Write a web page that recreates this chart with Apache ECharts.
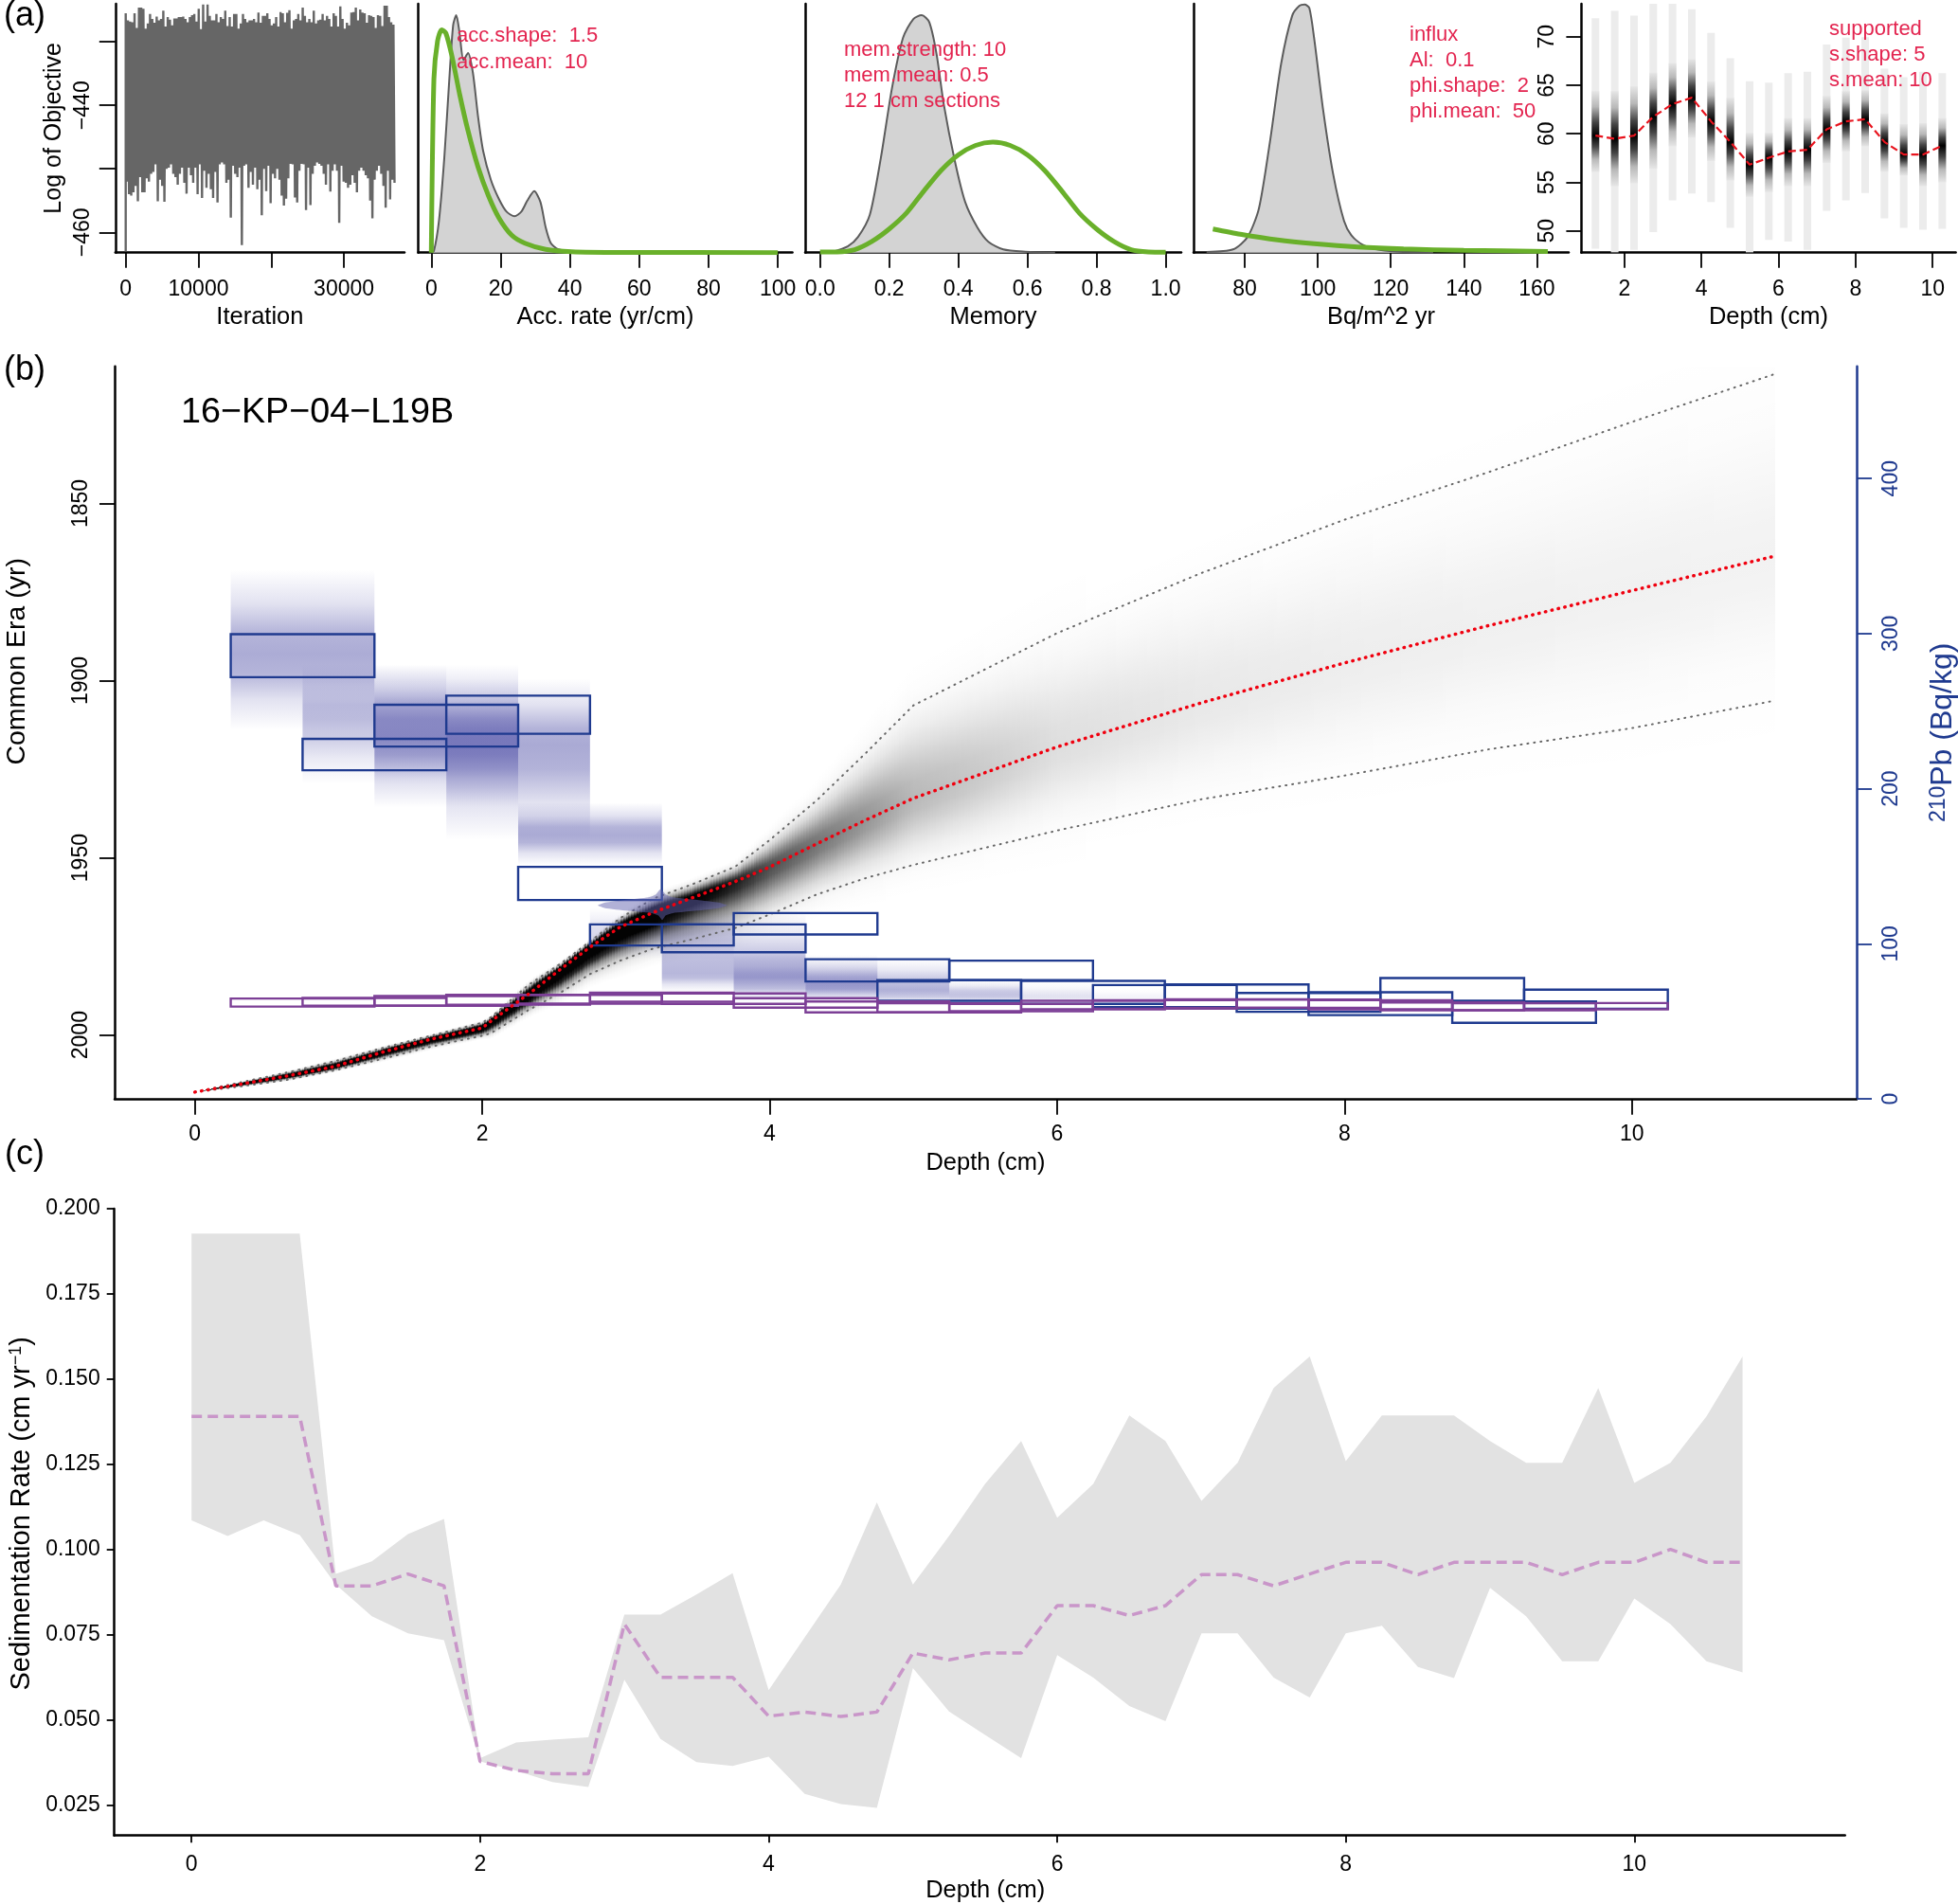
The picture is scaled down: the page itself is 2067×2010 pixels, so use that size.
<!DOCTYPE html>
<html><head><meta charset="utf-8">
<style>html,body{margin:0;padding:0;background:#fff}#c{width:2067px;height:2010px}</style>
<script src="https://cdn.jsdelivr.net/npm/echarts@6/dist/echarts.min.js"></script>
</head><body><div id="c"></div>
<script>
const FONT='"Liberation Sans",Arial,sans-serif';
// (a1) trace envelope
const traceTop=[-425.5,-426.6,-426.8,-426.9,-425.5,-427.8,-424.6,-424.6,-424.8,-427.9,-427.1,-425.6,-426.4,-427,-426,-426.6,-426.4,-425.1,-427.6,-426.1,-426.5,-427.4,-426.3,-426.3,-426.1,-426.1,-426,-426.4,-426.9,-426.1,-425.8,-425.6,-426.8,-424.8,-428,-424.1,-426.8,-424.1,-425.9,-426.6,-426.6,-425.6,-426.9,-426.1,-426.4,-425.1,-427.5,-426.1,-427.6,-425.6,-425.6,-427.9,-427.1,-425.6,-426.4,-426.9,-426.6,-426.6,-426.4,-426.9,-425.4,-427,-425.9,-425.9,-425.5,-426.4,-427.4,-427.1,-426.1,-427.6,-425.3,-425.5,-426.9,-425.4,-425,-427.9,-426.6,-426.4,-425.6,-426.6,-424.6,-425.9,-426.9,-426.4,-426.9,-425.1,-427.1,-426.6,-426.5,-425.6,-426.6,-425.9,-426.4,-427.6,-425.5,-425.9,-427.6,-424.4,-426.4,-427.9,-427,-427.4,-425.4,-425.3,-424.6,-426.6,-424.9,-425.4,-425.5,-427,-425.8,-425.9,-426.1,-427.8,-425.8,-425.9,-427.5,-424.3,-424.3,-426.1,-426.9,-427.3];
const traceLow=[-452,-454,-454.2,-453.7,-452.7,-455.1,-451.3,-453.7,-453.7,-451.5,-452,-450.8,-450.5,-449.3,-455.1,-451.7,-452.7,-455.2,-450,-449.8,-449.3,-450.8,-451.3,-452.5,-450.8,-449.8,-452.2,-453.9,-449.8,-451,-452.2,-449.8,-454,-449.3,-454.6,-450.3,-453,-450.8,-453.2,-454.6,-450.5,-455.3,-449.3,-449,-449.3,-452.2,-451.7,-457.7,-449.5,-450.8,-451.3,-449.8,-462,-449.5,-449.3,-453,-450.5,-452.5,-449.8,-453.2,-451.7,-457.3,-450,-453.5,-449.5,-455.4,-450.8,-451.5,-450,-451.7,-454.2,-455.8,-454.7,-451.5,-449.2,-449.3,-454.5,-455.3,-450.3,-449.2,-449.3,-456.5,-449.8,-455.7,-450.8,-449.5,-449,-449.2,-449.5,-450.8,-452.5,-449.3,-453.6,-450.3,-449.3,-450.3,-458.5,-449.5,-452,-452.2,-453,-452.5,-451,-452.2,-453.7,-450.3,-449.8,-450.3,-451,-451.5,-455,-457.8,-451.7,-450.3,-449.5,-450.8,-452.7,-456.1,-450.3,-454.8,-451.7,-452.2];
const traceStart=-463, traceLastIter=36800;
// (a2)
const accX=[0,0.75,2.2,3.75,5.2,6.3,7.2,8.1,9.3,10.6,12,13.5,15,17.2,19.5,21.7,24,26,27.7,29.7,31.5,33,34.5,36.7,40.5,45,50];
const accY=[0,.006,.127,.381,.698,.914,.954,.888,.774,.802,.723,.546,.406,.292,.216,.165,.146,.165,.209,.247,.203,.102,.038,.013,.004,.001,0];
const accPriorX=[0,.75,1.8,3,4.2,6,8.2,10.5,13.5,16.5,19.5,23.2,27,33,40.5,55,100];
const accPriorY=[0,.698,.85,.895,.882,.787,.635,.495,.343,.228,.14,.07,.038,.013,.004,.001,0];
// (a3)
const memX=[.036,.08,.11,.144,.176,.208,.24,.27,.294,.316,.337,.358,.39,.42,.455,.487,.53,.594,.68];
const memY=[.003,.025,.063,.152,.381,.66,.863,.939,.954,.926,.799,.596,.368,.203,.102,.044,.013,.004,0];
const memPriorX=[0,.05,.1,.15,.2,.25,.3,.35,.4,.45,.5,.55,.6,.65,.7,.75,.8,.85,.9,.95,1];
const memPriorY=[.003,.003,.012,.045,.095,.159,.247,.33,.393,.431,.444,.431,.393,.33,.247,.159,.095,.045,.012,.003,.002];
// (a4)
const fluxX=[69.6,76.8,80.8,83.9,86.9,90,93,95,96.4,97.7,99,101.5,104.2,107.2,109.2,112.3,117.4,123.4,131.6];
const fluxY=[.003,.013,.063,.178,.444,.761,.952,.992,.997,.983,.863,.571,.317,.127,.07,.032,.01,.003,0];
const fluxPriorX=[71.3,78.8,89,99,111,123.5,140,163];
const fluxPriorY=[.095,.074,.051,.036,.023,.015,.009,.005];
// (a5)
const suppDepth=[1.25,1.75,2.25,2.75,3.25,3.75,4.25,4.75,5.25,5.75,6.25,6.75,7.25,7.75,8.25,8.75,9.25,9.75,10.25];
const suppMed=[59.81,59.49,59.81,61.76,63.07,63.72,61.28,59.16,56.82,57.53,58.18,58.35,60.46,61.28,61.5,59.16,57.86,57.86,58.77];
const suppHi=[71.92,72.67,72.18,73.42,73.42,72.83,70.39,67.79,65.41,65.28,66.26,66.39,69.19,69.9,69.97,66.71,65.83,66.39,66.26];
const suppLo=[48.16,47.77,48.03,49.88,53.14,53.85,52.98,50.31,47.77,49.07,48.9,48.03,52.06,53.14,53.89,51.28,50.31,50.11,50.21];
const suppCoreHi=[64.4,64.4,64.9,66.3,67.3,67.7,65.4,63.7,60.1,60.1,61.6,61.6,63.9,64.4,64.5,62.1,61,61.1,61.6];
const suppCoreLo=[56.07,54.6,54.9,56.4,58.7,59.6,57.2,55.2,53.5,54,54.6,54.6,57,58.2,58.7,56.1,55.7,54.6,55];
// (b) age model
const ageDepth=[0,0.3,0.65,0.97,1.31,1.64,2,2.06,2.32,2.55,2.75,2.96,3.19,3.46,3.76,4,4.33,4.67,5,6,7,8,9,10,11];
const ageMed=[2016.1,2014,2011.5,2008.9,2004.8,2001.2,1998,1996.1,1988.5,1981.3,1975.2,1969.5,1965.4,1961.3,1956.7,1952.6,1946,1939.3,1933.2,1918.7,1906.3,1895,1884.5,1874.6,1864.8];
const ageOld=[2016.1,2013.5,2010.5,2007.4,2003.6,2000.2,1996.5,1995,1985.9,1979.7,1973.6,1967,1961.5,1957.5,1952.5,1945,1933.7,1920.4,1907,1886.6,1869.7,1854.6,1841.2,1827,1813.4];
const ageYoung=[2016.1,2014.6,2012.6,2010,2006.7,2003.3,2000.2,1999.5,1993,1987.9,1982.8,1979,1975.6,1973,1969.8,1966,1960.3,1955.7,1952,1942.3,1933.5,1926.8,1919.4,1913.4,1905.6];
const ageDark=[1.8,1.8,1.8,1.8,1.8,1.8,1.8,1.8,1.8,1.8,1.8,1.7,1.4,1.1,.9,.7,.55,.42,.28,.13,.09,.07,.06,.055,.05];
// (b) 210Pb
const pbDepth=[.75,1.25,1.75,2.25,2.75,3.25,3.75,4.25,4.75,5.25,5.75,6.25,6.75,7.25,7.75,8.25,8.75,9.25,9.75];
const pbTop=[299.6,232.1,254.1,260,149.6,112.5,112.5,119.8,90,76.5,89.1,76.1,73.4,73.8,68.3,68.7,77.9,62.8,70.4];
const pbBot=[271.9,211.9,227.2,235.4,128.2,98.9,94.5,106,75.7,63.2,76.5,61.2,59.1,58.1,56.1,54,63.2,49,58.1];
const supTop=[64.7,65.1,66.3,67,67,68.4,68,64.9,62.8,61.6,61.2,63.2,63.6,64.2,64,63.6,62.2,61.6,61.8];
const supBot=[59.5,60,60,60.7,61.4,62.6,61.2,58.8,55.7,55.7,56.5,57.7,58.1,58.7,58.7,57.7,57.1,57.1,57.7];
const modelTop=[341,280,280,271,191,123,120,93,90,76.5,76.5,71];
const modelPeak=[287,245,233,228,170,106,81,74,73,67.3,66,65];
const modelBot=[238,203,188,167,151,90,69,62,63,61,62.2,62];
const modelDark=[.44,.32,.5,.45,.44,.2,.38,.34,.32,.24,.1,.06];
// (b) spindle
const csDepth=[2.805,2.855,2.99,3.158,3.209,3.242,3.276,3.327,3.495,3.646,3.704,3.646,3.495,3.327,3.276,3.253,3.226,3.175,3.007,2.855];
const csAge=[1963.4,1962.6,1961.85,1961.1,1960.3,1958.8,1960.3,1961.1,1961.85,1962.6,1963.4,1964.2,1964.9,1965.6,1966.25,1967.5,1966.25,1965.6,1964.9,1964.2];
// (c)
const rateDepth=[0,.25,.5,.75,1,1.25,1.5,1.75,2,2.25,2.5,2.75,3,3.25,3.5,3.75,4,4.25,4.5,4.75,5,5.25,5.5,5.75,6,6.25,6.5,6.75,7,7.25,7.5,7.75,8,8.25,8.5,8.75,9,9.25,9.5,9.75,10,10.25,10.5,10.75];
const rateHi=[.1927,.1927,.1927,.1927,.0929,.0966,.1046,.1090,.0389,.0435,.0443,.0450,.0810,.0810,.0869,.0931,.0588,.0743,.0898,.1139,.0898,.1040,.1193,.1319,.1094,.1193,.1394,.1319,.1143,.1255,.1474,.1567,.1260,.1394,.1394,.1394,.1319,.1255,.1255,.1474,.1196,.1255,.1391,.1567];
const rateLo=[.1086,.1040,.1086,.1043,.0898,.0805,.0755,.0735,.0379,.0352,.0319,.0304,.0619,.0445,.0377,.0366,.0393,.0284,.0254,.0243,.0653,.0526,.0457,.0389,.0691,.0625,.0542,.0497,.0755,.0755,.0625,.0567,.0755,.0777,.0656,.0624,.0888,.0805,.0673,.0673,.0857,.0782,.0673,.0640];
const rateMed=[.1391,.1391,.1391,.1391,.0894,.0894,.0929,.0894,.0379,.0353,.0343,.0343,.0782,.0626,.0626,.0626,.0512,.0524,.0511,.0524,.0697,.0677,.0697,.0697,.0836,.0836,.0807,.0836,.0927,.0927,.0894,.0929,.0963,.0963,.0927,.0963,.0963,.0963,.0927,.0963,.0963,.1001,.0963,.0963];
// ticks
const iterTicks=[0,10000,20000,30000], iterLabels=[0,10000,30000];
const accTicks=[0,20,40,60,80,100], memTicks=[0,.2,.4,.6,.8,1], fluxTicks=[80,100,120,140,160];
const suppXTicks=[2,4,6,8,10], suppYTicks=[50,55,60,65,70];
const objTicks=[-430,-440,-450,-460], objLabels=[-440,-460];
const depthTicks=[0,2,4,6,8,10], eraTicks=[1850,1900,1950,2000], pbTicks=[0,100,200,300,400];
const rateTicks=[.025,.05,.075,.1,.125,.15,.175,.2];

const BLUE='#1f3a8f', PURPLE='#7c3f96', RED='#e3244f', GREEN='#69b02a';
const zip=(a,b)=>a.map((v,i)=>[v,b[i]]);
const grids=[
 {left:121.8,top:4,width:305.2,height:262.7},
 {left:441.6,top:4,width:394.9,height:262.7},
 {left:850,top:4,width:397,height:262.7},
 {left:1260,top:4,width:396,height:262.7},
 {left:1669.4,top:4,width:395.2,height:262.7},
 {left:121,top:386.7,width:1839,height:773.3},
 {left:120.7,top:1276,width:1827,height:661.7}
].map(g=>Object.assign(g,{outerBoundsMode:'none',containLabel:false}));
const line={show:true,onZero:false,lineStyle:{color:'#000',width:2.5}};
function xAx(g,min,max,ticks,labels,name,tickLen,margin,gap,fmt,pad){
 return {type:'value',gridIndex:g,min,max,name,nameLocation:'middle',nameGap:gap,
  nameTextStyle:{fontFamily:FONT,fontSize:25.5,color:'#000',padding:pad||0},axisLine:line,splitLine:{show:false},
  axisTick:{show:true,length:tickLen,customValues:ticks,lineStyle:{color:'#000',width:1.8}},
  axisLabel:{show:true,customValues:labels,margin,fontFamily:FONT,fontSize:23,color:'#000',formatter:fmt||(v=>String(v))}};
}
function yPlain(g){
 return {type:'value',gridIndex:g,min:0,max:1,axisLine:line,axisTick:{show:false},axisLabel:{show:false},splitLine:{show:false}};
}
const xAxis=[
 xAx(0,-1420,38320,iterTicks,iterLabels,'Iteration',16,27,55),
 xAx(1,-3.75,104.2,accTicks,accTicks,'Acc. rate (yr/cm)',16,27,55),
 xAx(2,-.043,1.045,memTicks,memTicks,'Memory',16,27,55,v=>v.toFixed(1)),
 xAx(3,66,168.7,fluxTicks,fluxTicks,'Bq/m^2 yr',16,27,55),
 xAx(4,.884,10.6,suppXTicks,suppXTicks,'Depth (cm)',16,27,55),
 xAx(5,-.558,11.564,depthTicks,depthTicks,'Depth (cm)',16.7,26,55),
 xAx(6,-.535,11.46,depthTicks,depthTicks,'Depth (cm)',7.6,19,45,null,[0,0,0,12])
];
const yAxis=[
 {type:'value',gridIndex:0,min:-463.2,max:-424,name:'Log of Objective',nameLocation:'middle',nameGap:52,nameRotate:90,
  nameTextStyle:{fontFamily:FONT,fontSize:25,color:'#000'},axisLine:line,splitLine:{show:false},
  axisTick:{show:true,length:17,customValues:objTicks,lineStyle:{color:'#000',width:1.8}},
  axisLabel:{show:true,customValues:objLabels,rotate:90,margin:23,fontFamily:FONT,fontSize:23,color:'#000',formatter:v=>String(v).replace('-','\u2212')}},
 yPlain(1),yPlain(2),yPlain(3),
 {type:'value',gridIndex:4,min:47.75,max:73.4,axisLine:line,splitLine:{show:false},
  axisTick:{show:true,length:16,customValues:suppYTicks,lineStyle:{color:'#000',width:1.8}},
  axisLabel:{show:true,customValues:suppYTicks,rotate:90,margin:24,fontFamily:FONT,fontSize:23,color:'#000'}},
 {type:'value',gridIndex:5,inverse:true,min:1811.3,max:2018,name:'Common Era (yr)',nameLocation:'middle',nameGap:88,nameRotate:90,
  nameTextStyle:{fontFamily:FONT,fontSize:28.5,color:'#000',padding:[0,0,0,150]},axisLine:line,splitLine:{show:false},
  axisTick:{show:true,length:16,customValues:eraTicks,lineStyle:{color:'#000',width:1.8}},
  axisLabel:{show:true,customValues:eraTicks,rotate:90,margin:24,fontFamily:FONT,fontSize:23,color:'#000',formatter:v=>String(v)}},
 {type:'value',gridIndex:5,position:'right',min:0,max:472.4,name:'{s|210}{m|Pb (Bq/kg)}',nameLocation:'middle',nameGap:75,nameRotate:90,
  nameTextStyle:{fontFamily:FONT,color:BLUE,rich:{s:{fontFamily:FONT,fontSize:23,color:BLUE,verticalAlign:'top'},m:{fontFamily:FONT,fontSize:32,color:BLUE}}},
  axisLine:{show:true,onZero:false,lineStyle:{color:BLUE,width:2.5}},splitLine:{show:false},
  axisTick:{show:true,length:16,customValues:pbTicks,lineStyle:{color:BLUE,width:1.8}},
  axisLabel:{show:true,customValues:pbTicks,rotate:90,margin:25,fontFamily:FONT,fontSize:23,color:BLUE,formatter:v=>String(v)}},
 {type:'value',gridIndex:6,min:.0162,max:.2,name:'Sedimentation Rate (cm yr{s|\u22121})',nameLocation:'middle',nameGap:81,nameRotate:90,
  nameTextStyle:{fontFamily:FONT,fontSize:29,color:'#000',padding:[0,0,0,18],rich:{s:{fontFamily:FONT,fontSize:18,color:'#000',verticalAlign:'top'}}},
  axisLine:line,splitLine:{show:false},
  axisTick:{show:true,length:8,customValues:rateTicks,lineStyle:{color:'#000',width:1.8}},
  axisLabel:{show:true,customValues:rateTicks,margin:15,fontFamily:FONT,fontSize:23,color:'#000',formatter:v=>v.toFixed(3)}}
];
// trace zigzag
const traceN=Math.min(traceTop.length,traceLow.length);
const iterStep=traceLastIter/(traceN-1);
const traceData=[[0,traceStart]];
for(let i=0;i<traceN;i++){traceData.push([i*iterStep,traceTop[i]]);traceData.push([i*iterStep+iterStep/2,traceLow[i]]);}
function dens(g,xs,ys){return {type:'line',xAxisIndex:g,yAxisIndex:g,data:zip(xs,ys),showSymbol:false,silent:true,smooth:.25,
 lineStyle:{color:'#5c5c5c',width:2},areaStyle:{color:'#d3d3d3',opacity:1}};}
function prior(g,xs,ys){return {type:'line',xAxisIndex:g,yAxisIndex:g,data:zip(xs,ys),showSymbol:false,silent:true,smooth:.25,
 lineStyle:{color:GREEN,width:5}};}
// density of age band
function ageBand(params,api){
 const i=params.dataIndex; if(i>=ageDepth.length-1) return null;
 const FMAX=1.5,children=[];
 const p0=api.coord([ageDepth[i],ageMed[i]])[0],p1=api.coord([ageDepth[i+1],ageMed[i+1]])[0];
 const slices=Math.max(1,Math.ceil((p1-p0)/3));
 const at=t=>({x:Math.round(p0+(p1-p0)*t),
   m:api.coord([0,ageMed[i]+(ageMed[i+1]-ageMed[i])*t])[1],
   o:api.coord([0,ageOld[i]+(ageOld[i+1]-ageOld[i])*t])[1],
   y:api.coord([0,ageYoung[i]+(ageYoung[i+1]-ageYoung[i])*t])[1],
   d:ageDark[i]+(ageDark[i+1]-ageDark[i])*t});
 const D=(d,f)=>Math.min(.99,d*Math.exp(-2.4*f*f));
 for(let s=0;s<slices;s++){
  const a=at(s/slices),b=at((s+1)/slices); if(b.x<=a.x) continue;
  const c=at((s+.5)/slices);
  const top=c.m+(c.o-c.m)*FMAX, bot=c.m+(c.y-c.m)*FMAX, H=bot-top; if(H<=.5) continue;
  const stops=[];
  for(let k=8;k>=-8;k--){
   const f=FMAX*Math.abs(k)/8, y=k>=0?c.m+(c.o-c.m)*f:c.m+(c.y-c.m)*f;
   const al=k===8||k===-8?0:D(c.d,f);
   stops.push({offset:Math.min(1,Math.max(0,(y-top)/H)),color:'rgba(0,0,0,'+al.toFixed(4)+')'});
  }
  children.push({type:'rect',silent:true,shape:{x:a.x,y:top,width:b.x-a.x,height:H},
    style:{fill:{type:'linear',x:0,y:0,x2:0,y2:1,colorStops:stops}}});
 }
 return {type:'group',children};
}
const PB_HALF=.5;
function modelBand(params,api){
 const i=params.dataIndex;
 const l=api.coord([pbDepth[i]-PB_HALF,modelTop[i]]), r=api.coord([pbDepth[i]+PB_HALF,modelBot[i]]);
 const p=(modelTop[i]-modelPeak[i])/(modelTop[i]-modelBot[i]), A=modelDark[i];
 const c=a=>'rgba(66,66,160,'+a.toFixed(3)+')';
 return {type:'rect',silent:true,shape:{x:l[0],y:l[1],width:r[0]-l[0],height:r[1]-l[1]},
  style:{fill:{type:'linear',x:0,y:0,x2:0,y2:1,colorStops:[
   {offset:0,color:c(0)},{offset:p*.4,color:c(A*.35)},{offset:p*.75,color:c(A*.9)},{offset:p,color:c(A)},
   {offset:p+(1-p)*.25,color:c(A*.9)},{offset:p+(1-p)*.6,color:c(A*.35)},{offset:1,color:c(0)}]}}};
}
function boxes(tops,bots,color){
 return (params,api)=>{
  const i=params.dataIndex;
  const l=api.coord([pbDepth[i]-PB_HALF,tops[i]]), r=api.coord([pbDepth[i]+PB_HALF,bots[i]]);
  return {type:'rect',silent:true,shape:{x:l[0],y:l[1],width:r[0]-l[0],height:r[1]-l[1]},
   style:{fill:null,stroke:color,lineWidth:2.4}};
 };
}
function suppColumn(params,api){
 const i=params.dataIndex,W=8;
 const x=api.coord([suppDepth[i],0])[0];
 const yh=api.coord([0,suppHi[i]])[1],yl=api.coord([0,suppLo[i]])[1];
 const ch=api.coord([0,suppCoreHi[i]])[1],cl=api.coord([0,suppCoreLo[i]])[1],ym=api.coord([0,suppMed[i]])[1];
 const m=(ym-ch)/(cl-ch);
 return {type:'group',children:[
  {type:'rect',silent:true,shape:{x:x-W/2,y:yh,width:W,height:yl-yh},style:{fill:'#ececec'}},
  {type:'rect',silent:true,shape:{x:x-W/2,y:ch,width:W,height:cl-ch},style:{fill:{type:'linear',x:0,y:0,x2:0,y2:1,colorStops:[
    {offset:0,color:'#e6e6e6'},{offset:m*.35,color:'#b8b8b8'},{offset:m*.7,color:'#444'},{offset:m,color:'#000'},
    {offset:m+(1-m)*.3,color:'#444'},{offset:m+(1-m)*.65,color:'#b8b8b8'},{offset:1,color:'#e6e6e6'}]}}}
 ]};
}
const series=[
 {type:'line',xAxisIndex:0,yAxisIndex:0,data:traceData,showSymbol:false,silent:true,lineStyle:{color:'#666',width:2.4,join:'bevel',cap:'butt'}},
 dens(1,accX,accY),prior(1,accPriorX,accPriorY),
 dens(2,memX,memY),prior(2,memPriorX,memPriorY),
 dens(3,fluxX,fluxY),prior(3,fluxPriorX,fluxPriorY),
 {type:'custom',xAxisIndex:4,yAxisIndex:4,data:zip(suppDepth,suppMed),renderItem:suppColumn,clip:true,silent:true},
 {type:'line',xAxisIndex:4,yAxisIndex:4,data:zip(suppDepth,suppMed),showSymbol:false,silent:true,z:5,lineStyle:{color:'#e8141e',width:2.2,type:[8,4]}},
 {type:'custom',xAxisIndex:5,yAxisIndex:6,data:zip(pbDepth.slice(0,modelPeak.length),modelPeak),renderItem:modelBand,clip:true,silent:true,z:1},
 {type:'custom',xAxisIndex:5,yAxisIndex:5,data:zip(ageDepth,ageMed),renderItem:ageBand,clip:true,silent:true,z:2},
 {type:'line',xAxisIndex:5,yAxisIndex:5,data:zip(ageDepth,ageOld),showSymbol:false,silent:true,z:3,lineStyle:{color:'#666',width:2,type:[1,6],cap:'round'}},
 {type:'line',xAxisIndex:5,yAxisIndex:5,data:zip(ageDepth,ageYoung),showSymbol:false,silent:true,z:3,lineStyle:{color:'#666',width:2,type:[1,6],cap:'round'}},
 {type:'custom',xAxisIndex:5,yAxisIndex:6,data:zip(pbDepth,pbTop),renderItem:boxes(pbTop,pbBot,BLUE),clip:true,silent:true,z:4},
 {type:'custom',xAxisIndex:5,yAxisIndex:6,data:zip(pbDepth,supTop),renderItem:boxes(supTop,supBot,PURPLE),clip:true,silent:true,z:5},
 {type:'custom',xAxisIndex:5,yAxisIndex:5,data:[[csDepth[0],csAge[0]]],clip:true,silent:true,z:6,
  renderItem:(p,api)=>({type:'polygon',silent:true,shape:{points:csDepth.map((d,i)=>api.coord([d,csAge[i]])),smooth:.15},style:{fill:'rgba(100,100,175,.5)'}})},
 {type:'line',xAxisIndex:5,yAxisIndex:5,data:zip(ageDepth,ageMed),showSymbol:false,silent:true,z:7,lineStyle:{color:'#f0000f',width:3.5,type:[.5,6.5],cap:'round'}},
 {type:'custom',xAxisIndex:6,yAxisIndex:7,data:zip(rateDepth,rateHi),clip:true,silent:true,
  renderItem:(p,api)=>{ if(p.dataIndex>0) return null;
    const up=rateDepth.map((d,i)=>api.coord([d,rateHi[i]]));
    const dn=rateDepth.map((d,i)=>api.coord([d,rateLo[i]])).reverse();
    return {type:'polygon',silent:true,shape:{points:up.concat(dn)},style:{fill:'#e2e2e2'}};}},
 {type:'line',xAxisIndex:6,yAxisIndex:7,data:zip(rateDepth,rateMed),showSymbol:false,silent:true,z:5,lineStyle:{color:'#c996c9',width:3.5,type:[11,6]}}
];
function txt(s,x,y,size,color){return {type:'text',x,y:y+1.3,silent:true,z:20,style:{text:s,fontFamily:FONT,fontSize:size,fill:color||'#000',verticalAlign:'middle',align:'left'}};}
const graphic=[
 txt('(a)',4,16,36),txt('(b)',4,390,36),txt('(c)',5,1218,36),
 txt('16\u2212KP\u221204\u2212L19B',191,434,37.7),
 txt('acc.shape:  1.5',482,37,22,RED),txt('acc.mean:  10',482,65,22,RED),
 txt('mem.strength: 10',891,52,22,RED),txt('mem.mean: 0.5',891,79,22,RED),txt('12 1 cm sections',891,106,22,RED),
 txt('influx',1488,36,22,RED),txt('Al:  0.1',1488,63,22,RED),txt('phi.shape:  2',1488,90,22,RED),txt('phi.mean:  50',1488,117,22,RED),
 txt('supported',1931,30,22,RED),txt('s.shape: 5',1931,57,22,RED),txt('s.mean: 10',1931,84,22,RED)
];
const chart=echarts.init(document.getElementById('c'),null,{renderer:'canvas'});
chart.setOption({animation:false,backgroundColor:'#fff',textStyle:{fontFamily:FONT},grid:grids,xAxis,yAxis,series,graphic});
</script></body></html>
